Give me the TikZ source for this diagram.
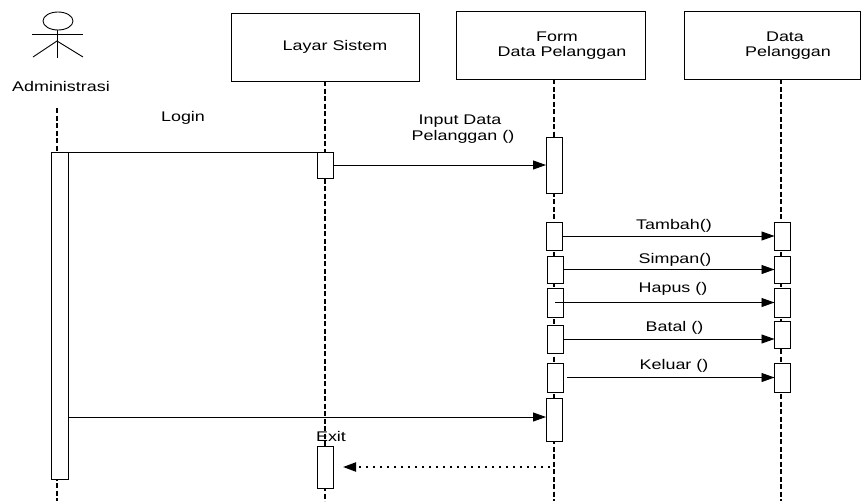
\documentclass[tikz,border=0pt]{standalone}
\usepackage{fontspec}
\setmainfont[FakeStretch=1.28]{Liberation Sans}
\usetikzlibrary{arrows.meta}
\begin{document}
\begin{tikzpicture}[x=1pt,y=-1pt,
  every node/.style={font=\fontsize{14}{16}\selectfont, inner sep=0pt, outer sep=0pt},
  hdr/.style={draw, line width=0.9pt, minimum width=#1, minimum height=68pt},
  actbox/.style={draw, fill=white, line width=0.9pt, minimum width=16pt, minimum height=#1},
  lifeline/.style={line width=2.5pt, dash pattern=on 5pt off 2.5pt},
  msg/.style={line width=0.9pt, -{Triangle[length=13pt,width=9pt]}},
  plainmsg/.style={line width=0.9pt},
  retmsg/.style={line width=2pt, dash pattern=on 2pt off 5pt, -{Triangle[length=13pt,width=9pt]}},
  lbl/.style={anchor=center}
]
\useasboundingbox (0,0) rectangle (861,501);
\fill[white] (0,0) rectangle (861,501);

% actor
\draw[line width=0.9pt] (58,21) ellipse [x radius=15, y radius=9];
\draw[line width=0.9pt] (32,34) -- (83,34);
\draw[line width=0.9pt] (57,30) -- (57,58);
\draw[line width=0.9pt] (33,57) -- (57,41) -- (83,57);
\node[lbl] (admin) at (61,86) {Administrasi};

% header boxes
\node[hdr=188pt] (layar) at (325,47) {};
\node[lbl] (layarT) at (335,47) {Layar Sistem};
\node[hdr=189pt] (form) at (550.5,45) {};
\node[lbl] (formT1) at (557,37) {Form};
\node[lbl] (formT2) at (562,53) {Data Pelanggan};
\node[hdr=176pt] (data) at (772,45) {};
\node[lbl] (dataT1) at (785,37) {Data};
\node[lbl] (dataT2) at (788,53) {Pelanggan};

% lifelines
\coordinate (aTop) at (57,108);
\coordinate (aBot) at (57,501);
\coordinate (lTop) at (325,81);
\coordinate (lBot) at (325,501);
\coordinate (fTop) at (554,79);
\coordinate (fBot) at (554,501);
\coordinate (dTop) at (781,79);
\coordinate (dBot) at (781,501);
\draw[lifeline] (aTop) -- (aBot);
\draw[lifeline] (lTop) -- (lBot);
\draw[lifeline] (fTop) -- (fBot);
\draw[lifeline] (dTop) -- (dBot);

% activation boxes
\node[actbox=327pt, minimum width=17pt] (aA) at (59.5,315.5) {};
\node[actbox=26pt] (l1) at (325,165) {};
\node[actbox=42pt] (l2) at (325,467) {};
\node[actbox=56pt] (f1) at (554,165) {};
\node[actbox=28pt] (f2) at (554,236) {};
\node[actbox=27pt] (f3) at (555,269.5) {};
\node[actbox=29pt] (f4) at (555,302.5) {};
\node[actbox=28pt] (f5) at (555,339) {};
\node[actbox=29pt] (f6) at (555,377.5) {};
\node[actbox=43pt] (f7) at (554,419.5) {};
\node[actbox=28pt] (d1) at (782.5,236) {};
\node[actbox=27pt] (d2) at (782.5,269.5) {};
\node[actbox=29pt] (d3) at (782.5,302.5) {};
\node[actbox=27pt] (d4) at (782.5,334.5) {};
\node[actbox=29pt] (d5) at (782.5,377.5) {};

% messages
\draw[plainmsg] (aA.north east) -- (l1.north west);
\node[lbl] (loginT) at (183,118) {Login};
\draw[msg] (l1.east) -- (f1.west);
\node[lbl] (inT1) at (460,121) {Input Data};
\node[lbl] (inT2) at (463,137) {Pelanggan ()};

\draw[msg] (f2.east) -- (d1.west);
\node[lbl] (tT) at (674,226) {Tambah()};
\draw[msg] (f3.east) -- (d2.west);
\node[lbl] (sT) at (675,260) {Simpan()};
\coordinate (hS) at ([xshift=-8pt]f4.east);
\draw[msg] (hS) -- (d3.west);
\node[lbl] (hT) at (673,289) {Hapus ()};
\draw[msg] (f5.east) -- (f5.east -| d4.west);
\node[lbl] (bT) at (674.5,328) {Batal ()};
\coordinate (kS) at ([xshift=4pt]f6.east);
\draw[msg] (kS) -- (d5.west);
\node[lbl] (kT) at (674,366) {Keluar ()};

\coordinate (lgE) at ([yshift=2.5pt]f7.west);
\draw[msg] (aA.east |- lgE) -- (lgE);

\node[lbl] (exitT) at (331,436) {Exit};
\coordinate (rS) at (550,467);
\coordinate (rE) at ([xshift=10pt]l2.east);
\draw[retmsg] (rS) -- (rE);
\end{tikzpicture}
\end{document}
